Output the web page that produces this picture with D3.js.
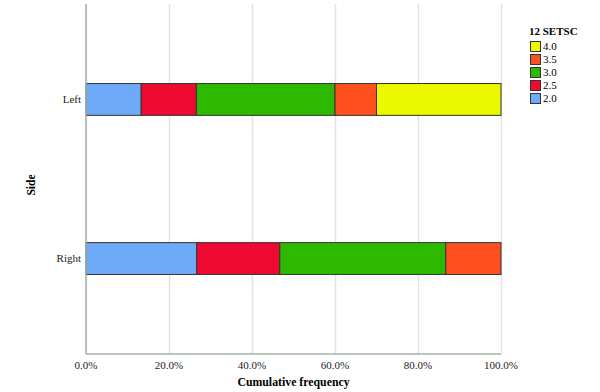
<!DOCTYPE html>
<head>
<meta charset="utf-8">
<script src="https://cdn.jsdelivr.net/npm/d3@7"></script>
<style>
body { margin: 0; font-family: "Liberation Serif", "DejaVu Serif", serif; }
.grid line { stroke: #e3e3e3; stroke-width: 1.5; }
.grid path { stroke-width: 0; }
</style>
</head>
<body>
<div id="chart"></div>
<script>
// data
var sides = ["Left", "Right"];
var scores = ["2.0", "2.5", "3.0", "3.5", "4.0"];
var leftPct = [13.3, 13.3, 33.4, 10.0, 30.0];
var rightPct = [26.7, 20.0, 40.0, 13.3, 0];
var colors = ["#6eaaf7", "#ee0a30", "#2db900", "#ff5120", "#ecf800"];
var xTicks = [0, 20, 40, 60, 80, 100];

var margin = {top: 4, right: 99, bottom: 38, left: 86},
    width = 600 - margin.left - margin.right,
    height = 392 - margin.top - margin.bottom;

var svg = d3.select("#chart").append("svg")
    .attr("width", 600).attr("height", 392)
  .append("g")
    .attr("transform", "translate(" + margin.left + "," + margin.top + ")");

var x = d3.scaleLinear().domain([0, 100]).range([0, width]);
var y = d3.scaleBand().domain(sides).range([0, height]).paddingInner(0.8).paddingOuter(0.5);

// gridlines
svg.append("g")
    .attr("class", "grid")
    .attr("transform", "translate(0," + height + ")")
    .call(d3.axisBottom(x).tickValues(xTicks).tickSize(-height).tickFormat(""));

// stacked bars
var rows = [leftPct, rightPct];
rows.forEach(function(vals, i) {
  var start = 0;
  vals.forEach(function(v, j) {
    if (v > 0) {
      svg.append("rect")
          .attr("x", x(start))
          .attr("y", y(sides[i]))
          .attr("width", x(start + v) - x(start))
          .attr("height", y.bandwidth())
          .attr("fill", colors[j])
          .attr("stroke", "#333")
          .attr("stroke-width", 1);
    }
    start += v;
  });
});

// axis lines
svg.append("line")
    .attr("x1", 0).attr("x2", 0).attr("y1", 0).attr("y2", height)
    .attr("stroke", "#a3b3ab").attr("stroke-width", 1.5);
svg.append("line")
    .attr("x1", 0).attr("x2", width).attr("y1", height).attr("y2", height)
    .attr("stroke", "#a3b3ab").attr("stroke-width", 1.5);

// x tick labels
svg.selectAll(".xt")
    .data(xTicks)
  .enter().append("text")
    .attr("x", function(d) { return x(d); })
    .attr("y", height + 15)
    .attr("text-anchor", "middle")
    .style("font-size", "11px")
    .attr("fill", "#222")
    .text(function(d) { return d.toFixed(1) + "%"; });

// y tick labels
svg.selectAll(".yt")
    .data(sides)
  .enter().append("text")
    .attr("x", -5)
    .attr("y", function(d) { return y(d) + y.bandwidth() / 2; })
    .attr("dy", "0.35em")
    .attr("text-anchor", "end")
    .style("font-size", "11px")
    .attr("fill", "#222")
    .text(function(d) { return d; });

// axis titles
svg.append("text")
    .attr("x", width / 2)
    .attr("y", height + 32)
    .attr("text-anchor", "middle")
    .style("font-size", "11.8px")
    .style("font-weight", "bold")
    .text("Cumulative frequency");

svg.append("text")
    .attr("transform", "rotate(-90)")
    .attr("x", -(height / 2) - 6)
    .attr("y", -51)
    .attr("text-anchor", "middle")
    .style("font-size", "11.5px")
    .style("font-weight", "bold")
    .text("Side");

// legend
var legend = d3.select("svg").append("g")
    .attr("transform", "translate(529,0)");
legend.append("text")
    .attr("x", 0).attr("y", 35)
    .style("font-size", "11px")
    .style("font-weight", "bold")
    .text("12 SETSC");
var order = [4, 3, 2, 1, 0];
order.forEach(function(j, k) {
  legend.append("rect")
      .attr("x", 1.5).attr("y", 41.5 + k * 13)
      .attr("width", 10).attr("height", 10)
      .attr("fill", colors[j])
      .attr("stroke", "#333");
  legend.append("text")
      .attr("x", 14).attr("y", 50 + k * 13)
      .style("font-size", "11px")
      .text(scores[j]);
});
</script>
</body>
